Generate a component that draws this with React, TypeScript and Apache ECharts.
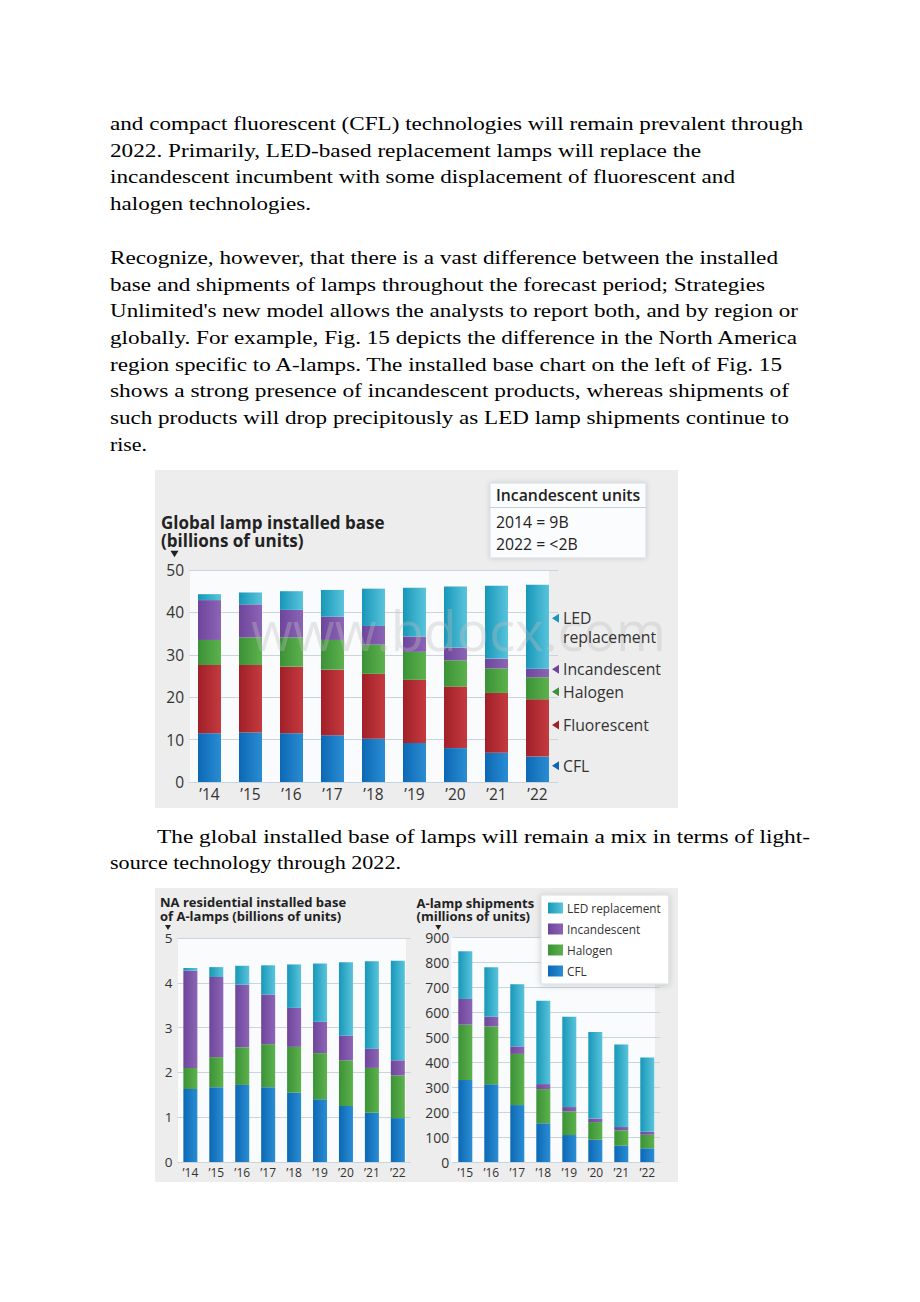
import React, { useEffect, useRef } from 'react';
import * as echarts from 'echarts';

// ---------- data ----------
const yearsA = ['’14', '’15', '’16', '’17', '’18', '’19', '’20', '’21', '’22'];
const yearsB = ['’15', '’16', '’17', '’18', '’19', '’20', '’21', '’22'];

// Global lamp installed base (billions of units)
const globalCFL = [11.5, 11.7, 11.5, 11.0, 10.2, 9.2, 8.0, 6.9, 6.0];
const globalFluorescent = [16.1, 15.9, 15.7, 15.5, 15.3, 14.9, 14.5, 14.1, 13.5];
const globalHalogen = [5.9, 6.5, 6.9, 7.0, 6.9, 6.6, 6.2, 5.8, 5.2];
const globalIncandescent = [9.4, 7.8, 6.5, 5.5, 4.4, 3.6, 3.0, 2.3, 2.0];
const globalLED = [1.4, 2.8, 4.4, 6.3, 8.8, 11.5, 14.4, 17.2, 19.8];

// NA residential installed base of A-lamps (billions of units)
const naCFL = [1.63, 1.67, 1.72, 1.67, 1.55, 1.4, 1.25, 1.1, 0.98];
const naHalogen = [0.47, 0.67, 0.84, 0.96, 1.02, 1.03, 1.02, 1.0, 0.95];
const naIncandescent = [2.17, 1.79, 1.4, 1.11, 0.87, 0.7, 0.55, 0.43, 0.34];
const naLED = [0.06, 0.22, 0.42, 0.65, 0.97, 1.3, 1.64, 1.95, 2.22];

// A-lamp shipments (millions of units)
const shipCFL = [328, 311, 228, 155, 108, 89, 65, 55];
const shipHalogen = [222, 232, 205, 137, 95, 71, 62, 54];
const shipIncandescent = [103, 39, 30, 20, 17, 14, 13, 12];
const shipLED = [191, 198, 249, 334, 362, 347, 331, 298];

const legendNames = ['LED replacement', 'Incandescent', 'Halogen', 'CFL'];

const paragraphLines = [
  { t: 'and compact fluorescent (CFL) technologies will remain prevalent through', x: 110, y: 130, w: 693 },
  { t: '2022. Primarily, LED-based replacement lamps will replace the', x: 110, y: 156.7, w: 591 },
  { t: 'incandescent incumbent with some displacement of fluorescent and', x: 110, y: 183.3, w: 625 },
  { t: 'halogen technologies.', x: 110, y: 210, w: 201 },
  { t: 'Recognize, however, that there is a vast difference between the installed', x: 110, y: 264, w: 668 },
  { t: 'base and shipments of lamps throughout the forecast period; Strategies', x: 110, y: 290.7, w: 655 },
  { t: "Unlimited's new model allows the analysts to report both, and by region or", x: 110, y: 317.3, w: 688 },
  { t: 'globally. For example, Fig. 15 depicts the difference in the North America', x: 110, y: 344, w: 687 },
  { t: 'region specific to A-lamps. The installed base chart on the left of Fig. 15', x: 110, y: 370.7, w: 672 },
  { t: 'shows a strong presence of incandescent products, whereas shipments of', x: 110, y: 397.3, w: 679 },
  { t: 'such products will drop precipitously as LED lamp shipments continue to', x: 110, y: 424, w: 679 },
  { t: 'rise.', x: 110, y: 450.7, w: 37 },
  { t: 'The global installed base of lamps will remain a mix in terms of light-', x: 157, y: 843, w: 653 },
  { t: 'source technology through 2022.', x: 110, y: 869, w: 291 },
];

const FONT = '"Open Sans", "Noto Sans", sans-serif';

const COLORS: Record<string, [string, string]> = {
  CFL: ['#0c68b5', '#2a8dd2'],
  Fluorescent: ['#a11f28', '#c43b3f'],
  Halogen: ['#3b9236', '#5db24d'],
  Incandescent: ['#6d459b', '#8c65b6'],
  'LED replacement': ['#1797b9', '#5ac4db'],
};

const grad = (name: string) =>
  new echarts.graphic.LinearGradient(0, 0, 1, 0, [
    { offset: 0, color: COLORS[name][0] },
    { offset: 1, color: COLORS[name][1] },
  ]);

function barSeries(name: string, data: number[], idx: number, width: number) {
  return {
    type: 'bar',
    name,
    data,
    stack: 'stack' + idx,
    xAxisIndex: idx,
    yAxisIndex: idx,
    barWidth: width,
    itemStyle: { color: grad(name) },
    emphasis: { disabled: true },
  };
}

const App: React.FC = () => {
  const ref = useRef<HTMLDivElement>(null);

  useEffect(() => {
    if (!ref.current) return;
    const chart = echarts.init(ref.current, undefined, { renderer: 'svg' });

    const gridLine = { show: true, lineStyle: { color: '#c9d5de', width: 1 } };
    const xAxisBase = (gridIndex: number, data: string[], fontSize: number, margin: number) => ({
      type: 'category',
      gridIndex,
      data,
      axisLine: { show: false },
      axisTick: { show: false },
      axisLabel: { color: '#333', fontSize, fontFamily: FONT, margin },
    });
    const yAxisBase = (gridIndex: number, max: number, interval: number, fontSize: number, margin: number) => ({
      type: 'value',
      gridIndex,
      min: 0,
      max,
      interval,
      axisLine: { show: false },
      axisTick: { show: false },
      splitLine: gridLine,
      axisLabel: { color: '#333', fontSize, fontFamily: FONT, margin },
    });

    const labelTri = (x: number, y: number, name: string) => ({
      type: 'polygon',
      z: 20,
      shape: { points: [[x, y], [x + 7, y - 4.5], [x + 7, y + 4.5]] },
      style: { fill: COLORS[name][0] },
    });
    const txt = (text: string, x: number, y: number, size: number, weight: any = 'normal', fill = '#333', z = 20) => ({
      type: 'text',
      z,
      x,
      y,
      style: { text, fill, font: `${weight} ${size}px ${FONT}`, textVerticalAlign: 'middle', textBaseline: 'middle' },
    });
    const downTri = (x: number, y: number, s: number) => ({
      type: 'polygon',
      z: 20,
      shape: { points: [[x - s, y - s * 0.8], [x + s, y - s * 0.8], [x, y + s * 0.8]] },
      style: { fill: '#222' },
    });

    const option: any = {
      animation: false,
      backgroundColor: 'transparent',
      grid: [
        { left: 189, top: 570, width: 369, height: 212 },
        { left: 177.4, top: 938, width: 233.4, height: 224 },
        { left: 452.3, top: 937.3, width: 208, height: 224.7 },
      ],
      xAxis: [
        xAxisBase(0, yearsA, 15.5, 4),
        xAxisBase(1, yearsA, 12, 4),
        xAxisBase(2, yearsB, 12, 4),
      ],
      yAxis: [
        yAxisBase(0, 50, 10, 15.5, 5),
        yAxisBase(1, 5, 1, 13.5, 5),
        yAxisBase(2, 900, 100, 14, 3),
      ],
      legend: {
        data: legendNames,
        orient: 'vertical',
        left: 541,
        top: 895,
        icon: 'rect',
        itemWidth: 15,
        itemHeight: 11,
        itemGap: 9,
        padding: [7, 8, 7, 7],
        backgroundColor: '#ffffff',
        borderColor: '#d6dde3',
        borderWidth: 1,
        shadowBlur: 6,
        shadowColor: 'rgba(0,0,0,0.18)',
        shadowOffsetY: 1,
        selectedMode: false,
        textStyle: { color: '#333', fontSize: 11.8, fontFamily: FONT, padding: [0, 0, 0, -1] },
        z: 30,
      },
      series: [
        barSeries('CFL', globalCFL, 0, 23),
        barSeries('Fluorescent', globalFluorescent, 0, 23),
        barSeries('Halogen', globalHalogen, 0, 23),
        barSeries('Incandescent', globalIncandescent, 0, 23),
        barSeries('LED replacement', globalLED, 0, 23),
        barSeries('CFL', naCFL, 1, 14),
        barSeries('Halogen', naHalogen, 1, 14),
        barSeries('Incandescent', naIncandescent, 1, 14),
        barSeries('LED replacement', naLED, 1, 14),
        barSeries('CFL', shipCFL, 2, 14),
        barSeries('Halogen', shipHalogen, 2, 14),
        barSeries('Incandescent', shipIncandescent, 2, 14),
        barSeries('LED replacement', shipLED, 2, 14),
      ],
      graphic: [
        // image backgrounds
        { type: 'rect', z: -5, shape: { x: 155, y: 470, width: 523, height: 338 }, style: { fill: '#ededed' } },
        { type: 'rect', z: -5, shape: { x: 155, y: 888, width: 523, height: 294 }, style: { fill: '#ededed' } },
        // plot backgrounds
        { type: 'rect', z: -4, shape: { x: 190, y: 570, width: 359, height: 212 }, style: { fill: '#f9fbfc' } },
        { type: 'rect', z: -4, shape: { x: 178, y: 938, width: 228, height: 224 }, style: { fill: '#f9fbfc' } },
        { type: 'rect', z: -4, shape: { x: 451, y: 937, width: 204, height: 225 }, style: { fill: '#f9fbfc' } },

        // watermark
        {
          type: 'text',
          z: 12,
          x: 251,
          y: 630,
          style: {
            text: 'www.bdocx.com',
            fill: 'rgba(190,190,190,0.35)',
            font: `normal 54px ${FONT}`,
            textVerticalAlign: 'middle',
            textBaseline: 'middle',
          },
        },

        // chart 1 title
        txt('Global lamp installed base', 161, 522, 17, 'bold', '#222'),
        txt('(billions of units)', 161, 540.5, 17, 'bold', '#222'),
        downTri(174.5, 554, 4),

        // incandescent box
        {
          type: 'rect',
          z: 15,
          shape: { x: 490, y: 483, width: 156, height: 75 },
          style: { fill: '#fbfcfd', stroke: '#d5dde3', lineWidth: 1, shadowBlur: 5, shadowColor: 'rgba(0,0,0,0.15)' },
        },
        { type: 'line', z: 16, shape: { x1: 490, y1: 507.5, x2: 646, y2: 507.5 }, style: { stroke: '#c5d0d8', lineWidth: 1 } },
        txt('Incandescent units', 496, 495, 15.8, 600, '#222', 17),
        txt('2014 = 9B', 496, 521.7, 15.8, 'normal', '#222', 17),
        txt('2022 = <2B', 496, 544, 15.8, 'normal', '#222', 17),

        // right-side labels
        labelTri(552, 618.3, 'LED replacement'),
        txt('LED', 563, 618.3, 15.8, 'normal', '#333'),
        txt('replacement', 563, 636.7, 15.8, 'normal', '#333'),
        labelTri(552, 669.3, 'Incandescent'),
        txt('Incandescent', 563, 669.3, 15.8, 'normal', '#333'),
        labelTri(552, 691.7, 'Halogen'),
        txt('Halogen', 563, 691.7, 15.8, 'normal', '#333'),
        labelTri(552, 725, 'Fluorescent'),
        txt('Fluorescent', 563, 725, 15.8, 'normal', '#333'),
        labelTri(552, 765.7, 'CFL'),
        txt('CFL', 563, 765.7, 15.8, 'normal', '#333'),

        // chart 2 title
        txt('NA residential installed base', 160, 902, 13, 'bold', '#222'),
        txt('of A-lamps (billions of units)', 160, 916, 13, 'bold', '#222'),
        downTri(168, 927.5, 3),

        // chart 3 title
        txt('A-lamp shipments', 416.5, 902.5, 13, 'bold', '#222'),
        txt('(millions of units)', 416.5, 916, 13, 'bold', '#222'),
        downTri(438.3, 927.5, 3),
      ],
    };

    chart.setOption(option);
    return () => chart.dispose();
  }, []);

  return (
    <div style={{ position: 'absolute', left: 0, top: 0, width: 920, height: 1302, background: '#fff' }}>
      <div ref={ref} style={{ position: 'absolute', left: 0, top: 0, width: 920, height: 1302 }} />
      <svg
        width={920}
        height={1302}
        style={{ position: 'absolute', left: 0, top: 0, pointerEvents: 'none' }}
      >
        {paragraphLines.map((l, i) => (
          <text
            key={i}
            x={l.x}
            y={l.y}
            textLength={l.w}
            lengthAdjust="spacingAndGlyphs"
            fontFamily="Liberation Serif"
            fontSize={19.5}
            fill="#000"
          >
            {l.t}
          </text>
        ))}
      </svg>
    </div>
  );
};

export default App;
